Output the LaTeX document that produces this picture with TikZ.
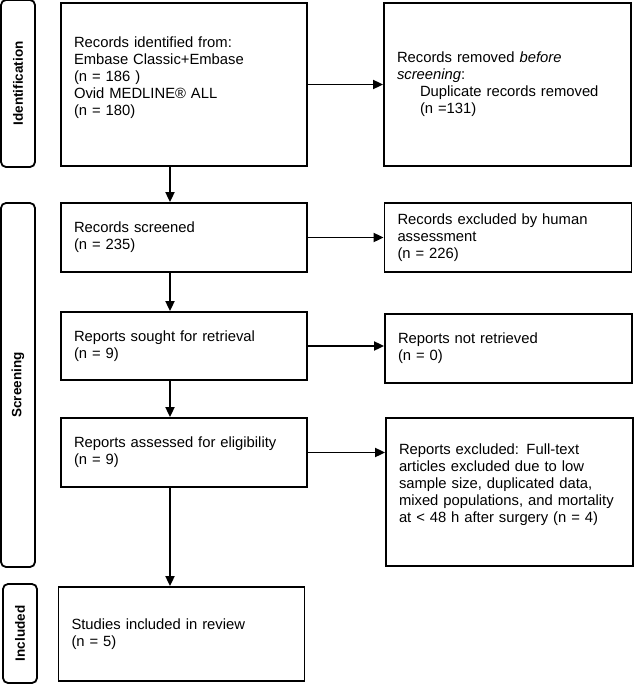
\documentclass[tikz,border=0pt]{standalone}
\usepackage{fontspec}
\setmainfont{Liberation Sans}
\usetikzlibrary{arrows.meta}

\begin{document}
\begin{tikzpicture}[x=1pt, y=-1pt, line width=1.8pt,
    font=\fontsize{14.8}{17}\selectfont,
    main/.style = {draw, rectangle, align=left, inner xsep=13pt, inner ysep=4pt, text width=220pt},
    side/.style = {main, text width=221pt},
    phase/.style = {draw, rounded corners=5pt, rotate=90, minimum height=34pt, inner sep=0pt, font=\fontsize{13.5}{16}\selectfont\bfseries},
    arr/.style = {-{Triangle[length=10pt, width=9pt]}}]
    \useasboundingbox (0,0) rectangle (634,685);

    \node[phase, minimum width=167pt] (p1) at (18,83.5) {Identification};
    \node[phase, minimum width=364pt] (p2) at (18,385) {Screening};
    \node[phase, minimum width=99pt] (p3) at (20,633.5) {Included};

    \node[main, minimum height=163pt, text depth=85pt] (1) at (184,84.5) {Records identified from:\\ Embase Classic+Embase\\ (n = 186 )\\ Ovid MEDLINE\textregistered{} ALL\\ (n = 180)};
    \node[side, minimum height=163pt] (2) at (507.5,84.5) {Records removed \textit{before}\\ \textit{screening}:\\ \hspace*{23pt}Duplicate records removed\\ \hspace*{23pt}(n =131)};
    \node[main, minimum height=69pt] (3) at (184,237.5) {Records screened\\ (n = 235)};
    \node[side, minimum height=69pt] (4) at (508,237.5) {Records excluded by human\\ assessment\\ (n = 226)};
    \node[main, minimum height=68pt] (5) at (184,346) {Reports sought for retrieval\\ (n = 9)};
    \node[side, minimum height=69pt] (6) at (508.5,348.5) {Reports not retrieved\\ (n = 0)};
    \node[main, minimum height=69pt] (7) at (184,452.5) {Reports assessed for eligibility\\ (n = 9)};
    \node[side, minimum height=148pt, text depth=85pt] (8) at (509.5,492) {Reports excluded: Full-text\\ articles excluded due to low\\ sample size, duplicated data,\\ mixed populations, and mortality\\ at < 48 h after surgery (n = 4)};
    \node[main, minimum height=94pt] (9) at (181.5,634) {Studies included in review\\ (n = 5)};

    \draw[arr] ([xshift=-14pt]1.south) -- ([xshift=-14pt]1.south |- 3.north);
    \draw[arr] ([xshift=-14pt]3.south) -- ([xshift=-14pt]3.south |- 5.north);
    \draw[arr] ([xshift=-14pt]5.south) -- ([xshift=-14pt]5.south |- 7.north);
    \draw[arr] ([xshift=-14pt]7.south) -- ([xshift=-14pt]7.south |- 9.north);
    \draw[arr] (1.east) -- (1.east -| 2.west);
    \draw[arr] (3.east) -- (3.east -| 4.west);
    \draw[arr] (5.east) -- (5.east -| 6.west);
    \draw[arr] (7.east) -- (7.east -| 8.west);
  \end{tikzpicture}
\end{document}
